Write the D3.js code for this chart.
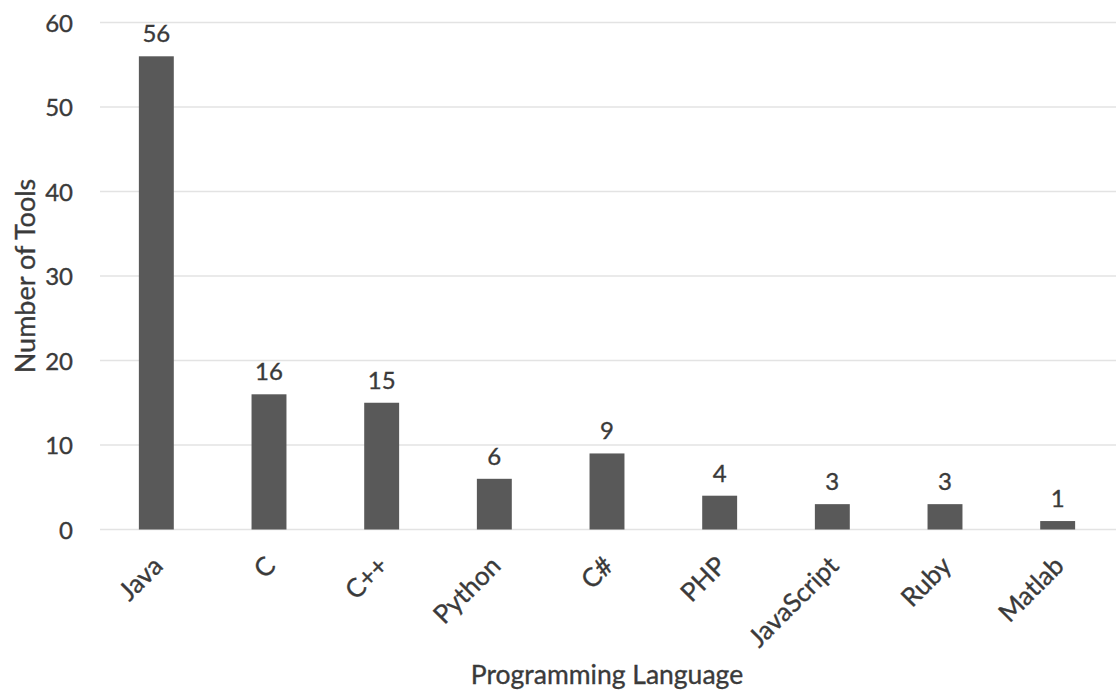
<!DOCTYPE html>
<html>
<head>
<meta charset="utf-8">
<script src="https://cdn.jsdelivr.net/npm/d3@7"></script>
<style>
  html, body { margin: 0; padding: 0; background: #fff; }
  svg text { font-family: Lato, "Open Sans", sans-serif; fill: #3a3a3a; stroke: #3a3a3a; stroke-width: 0.35px; }
</style>
</head>
<body>
<svg id="chart" width="1116" height="695"></svg>
<script>
// Number of tools per programming language
const languages = ["Java", "C", "C++", "Python", "C#", "PHP", "JavaScript", "Ruby", "Matlab"];
const toolCounts = [56, 16, 15, 6, 9, 4, 3, 3, 1];
const yTicks = [0, 10, 20, 30, 40, 50, 60];

(function draw() {
  const svg = d3.select("#chart");
  const plotLeft = 100, plotRight = 1114, plotTop = 22.5, plotBottom = 529.5;

  const x = d3.scaleBand().domain(languages).range([plotLeft, plotRight]).padding(0);
  const y = d3.scaleLinear().domain([0, 60]).range([plotBottom, plotTop]);
  const barW = x.bandwidth() * 0.31;

  // Horizontal gridlines
  svg.append("g")
    .selectAll("line")
    .data(yTicks)
    .join("line")
    .attr("x1", plotLeft).attr("x2", 1116)
    .attr("y1", d => y(d)).attr("y2", d => y(d))
    .attr("stroke", "#e3e3e3")
    .attr("stroke-width", 1.5);

  // Y axis labels
  const yAxis = d3.axisLeft(y).tickValues(yTicks).tickSize(0).tickPadding(0);
  svg.append("g")
    .attr("transform", "translate(73,1)")
    .call(yAxis)
    .call(g => g.select(".domain").remove())
    .selectAll("text")
    .attr("font-size", 24)
    .style("font-family", "Lato, sans-serif")
    .attr("fill", "#3a3a3a");

  // Bars
  svg.append("g")
    .selectAll("rect")
    .data(languages)
    .join("rect")
    .attr("x", d => x(d) + x.bandwidth() / 2 - barW / 2)
    .attr("width", barW)
    .attr("y", (d, i) => y(toolCounts[i]))
    .attr("height", (d, i) => y(0) - y(toolCounts[i]))
    .attr("fill", "#595959");

  // Value labels
  svg.append("g")
    .selectAll("text")
    .data(languages)
    .join("text")
    .attr("x", d => x(d) + x.bandwidth() / 2)
    .attr("y", (d, i) => y(toolCounts[i]) - 14)
    .attr("text-anchor", "middle")
    .attr("font-size", 24)
    .text((d, i) => toolCounts[i]);

  // X axis category labels, rotated
  const xAxis = d3.axisBottom(x).tickSize(0).tickPadding(0);
  svg.append("g")
    .attr("transform", `translate(0,${plotBottom})`)
    .call(xAxis)
    .call(g => g.select(".domain").remove())
    .selectAll("text")
    .attr("font-size", 26)
    .style("font-family", "Lato, sans-serif")
    .attr("fill", "#3a3a3a")
    .attr("text-anchor", "end")
    .attr("dy", 0)
    .attr("y", 0)
    .attr("transform", "translate(8,38) rotate(-45)");

  // Axis titles
  svg.append("text")
    .attr("x", 607).attr("y", 684)
    .attr("text-anchor", "middle")
    .attr("font-size", 26.5)
    .text("Programming Language");

  svg.append("text")
    .attr("transform", "translate(35,276) rotate(-90)")
    .attr("text-anchor", "middle")
    .attr("font-size", 27)
    .text("Number of Tools");
})();
</script>
</body>
</html>
